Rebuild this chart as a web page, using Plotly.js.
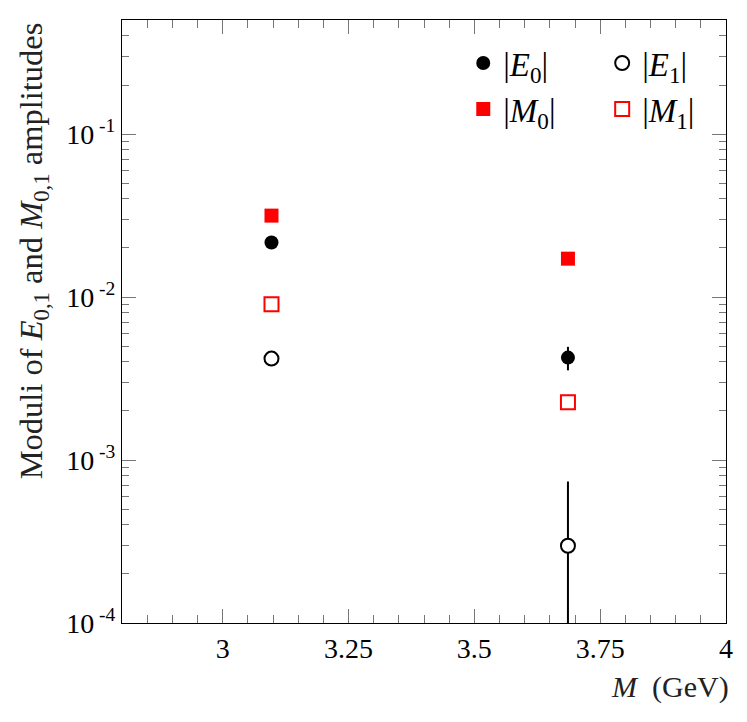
<!DOCTYPE html>
<html>
<head>
<meta charset="utf-8">
<script src="https://cdn.plot.ly/plotly-3.0.1.min.js"></script>
<style>
  html, body { margin: 0; padding: 0; background: #fff; }
  #plot { width: 747px; height: 722px; }
</style>
</head>
<body>
<div id="plot"></div>
<script>
// resonance masses (GeV): J/psi and psi(2S)
const mass = [3.097, 3.686];

// moduli of the amplitudes
const e0 = [0.0216, 0.00425];
const e0Err = [0, 0.0007];
const e1 = [0.00419, 0.000298];
const e1ErrUp = [0, 0.00044];
const e1ErrDown = [0, 0.00029];
const m0 = [0.0316, 0.0172];
const m1 = [0.00902, 0.00226];

const yTickVals = [1e-4, 1e-3, 1e-2, 1e-1];
const yTickText = ['10<sup> -4</sup>', '10<sup> -3</sup>', '10<sup> -2</sup>', '10<sup> -1</sup>'];
const xTickVals = [3, 3.25, 3.5, 3.75, 4];
const xTickText = ['3', '3.25', '3.5', '3.75', '4'];

// minor log ticks: 2..9 in each decade
const yMinor = [];
for (let d = -4; d <= -1; d++) {
  for (let k = 2; k <= 9; k++) yMinor.push(k * Math.pow(10, d));
}

const font = 'Liberation Serif';

const traces = [
  {
    name: '|<i>E</i><sub>0</sub>|', x: mass, y: e0, type: 'scatter', mode: 'markers',
    legend: 'legend', legendgroup: 'a',
    marker: { symbol: 'circle', size: 14, color: 'black' },
    error_y: { type: 'data', array: e0Err, color: 'black', thickness: 2, width: 0, visible: true }
  },
  {
    name: '|<i>M</i><sub>0</sub>|', x: mass, y: m0, type: 'scatter', mode: 'markers',
    legend: 'legend', legendgroup: 'b',
    marker: { symbol: 'square', size: 14, color: '#ff0000' }
  },
  {
    name: '|<i>E</i><sub>1</sub>|', x: mass, y: e1, type: 'scatter', mode: 'markers',
    legend: 'legend2', legendgroup: 'c',
    marker: { symbol: 'circle', size: 14, color: 'white', line: { color: 'black', width: 2 } },
    error_y: { type: 'data', symmetric: false, array: e1ErrUp, arrayminus: e1ErrDown,
               color: 'black', thickness: 2, width: 0, visible: true }
  },
  {
    name: '|<i>M</i><sub>1</sub>|', x: mass, y: m1, type: 'scatter', mode: 'markers',
    legend: 'legend2', legendgroup: 'd',
    marker: { symbol: 'square-open', size: 14, color: '#ff0000', line: { color: '#ff0000', width: 2 } }
  }
];

const legendStyle = {
  y: 0.975, yanchor: 'top', xanchor: 'left',
  bgcolor: 'rgba(0,0,0,0)', borderwidth: 0,
  font: { family: font, size: 33, color: 'black' },
  tracegroupgap: 0, itemwidth: 30
};

const layout = {
  width: 747, height: 722,
  margin: { l: 122, r: 21, t: 20, b: 99 },
  paper_bgcolor: 'white', plot_bgcolor: 'white',
  font: { family: font, size: 28, color: 'black' },
  showlegend: true,
  legend: Object.assign({ x: 0.565 }, legendStyle),
  legend2: Object.assign({ x: 0.795 }, legendStyle),
  xaxis: {
    range: [2.8, 4.0], showgrid: false, zeroline: false,
    showline: true, linecolor: 'black', linewidth: 1, mirror: 'allticks',
    tickmode: 'array', tickvals: xTickVals, ticktext: xTickText,
    ticks: 'inside', ticklen: 14, tickcolor: '#777', tickwidth: 1,
    minor: { dtick: 0.05, ticks: 'inside', ticklen: 8, tickcolor: '#777', showgrid: false },
    tickfont: { family: font, size: 28 }
  },
  yaxis: {
    type: 'log', range: [-4, -0.3], showgrid: false, zeroline: false,
    showline: true, linecolor: 'black', linewidth: 1, mirror: 'allticks',
    tickmode: 'array', tickvals: yTickVals, ticktext: yTickText,
    ticks: 'inside', ticklen: 14, tickcolor: '#777', tickwidth: 1,
    minor: { tickmode: 'array', tickvals: yMinor, ticks: 'inside', ticklen: 7, tickcolor: '#777', showgrid: false },
    tickfont: { family: font, size: 28 }
  },
  annotations: [
    {
      text: '<i>M</i>  (GeV)', xref: 'paper', yref: 'paper', x: 1.008, y: -0.075,
      xanchor: 'right', yanchor: 'top', showarrow: false,
      font: { family: font, size: 30, color: '#222' }
    },
    {
      text: 'Moduli of <i>E</i><sub>0,1</sub> and <i>M</i><sub>0,1</sub> amplitudes',
      xref: 'paper', yref: 'paper', x: -0.145, y: 0.617, textangle: -90,
      xanchor: 'center', yanchor: 'middle', showarrow: false,
      font: { family: font, size: 32.5, color: '#222' }
    }
  ]
};

Plotly.newPlot('plot', traces, layout, { staticPlot: true });
</script>
</body>
</html>
